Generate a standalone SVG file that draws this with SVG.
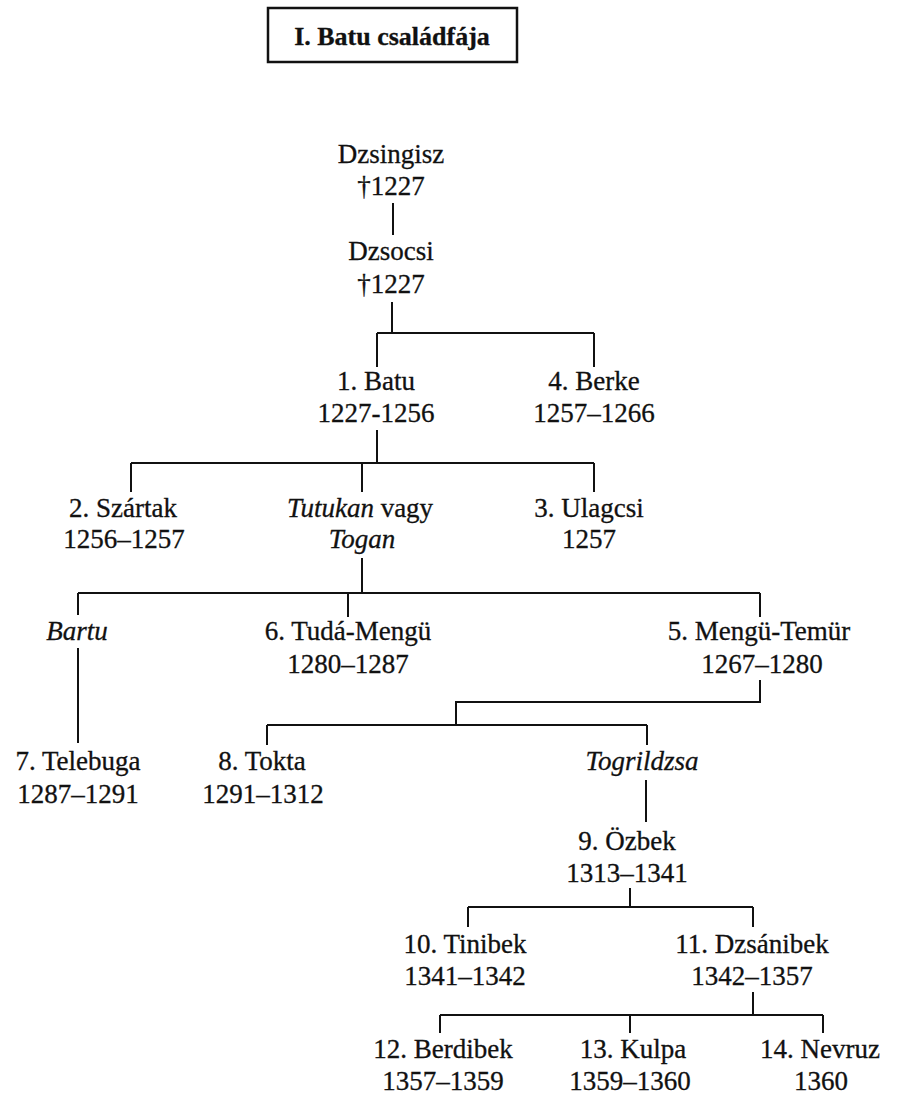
<svg xmlns="http://www.w3.org/2000/svg" width="914" height="1095" viewBox="0 0 914 1095">
<style>
text{font-family:"Liberation Serif","Times New Roman",serif;font-size:27px;fill:#111;stroke:#111;stroke-width:0.3;text-anchor:middle}
.i{font-style:italic}
.t{font-weight:bold;font-size:26px}
.c{fill:none;stroke:#111;stroke-width:2}
</style>
<rect width="914" height="1095" fill="#fff"/>
<g id="title">
<rect x="268" y="8" width="249" height="54" fill="none" stroke="#111" stroke-width="2.5"/>
<text class="t" x="392" y="45">I. Batu családfája</text>
</g>
<g id="connectors" class="c">
<path d="M393 203V235"/>
<path d="M392 302V333M377 333H594M377 333V367M594 333V367"/>
<path d="M377 430V463M131 463H594M131 463V492M362 463V492M594 463V492"/>
<path d="M362 558V593M78 593H760M78 593V615M348 593V617M760 593V617"/>
<path d="M78 648V743"/>
<path d="M760 680V702H456V725M267 725H647M267 725V745M647 725V745"/>
<path d="M646 780V822"/>
<path d="M630 888V907M468 907H753M468 907V927M753 907V927"/>
<path d="M753 992V1015M440 1015H823M440 1015V1033M630 1015V1033M823 1015V1033"/>
</g>
<g id="dzsingisz"><text x="391" y="163">Dzsingisz</text><text x="391" y="195">†1227</text></g>
<g id="dzsocsi"><text x="391" y="260">Dzsocsi</text><text x="391" y="293">†1227</text></g>
<g id="batu"><text x="376" y="390">1. Batu</text><text x="376" y="422">1227-1256</text></g>
<g id="berke"><text x="594" y="390">4. Berke</text><text x="594" y="422">1257–1266</text></g>
<g id="sartak"><text x="123" y="517">2. Szártak</text><text x="124" y="548">1256–1257</text></g>
<g id="tutukan"><text x="360" y="517"><tspan class="i">Tutukan</tspan> vagy</text><text class="i" x="362" y="548">Togan</text></g>
<g id="ulagcsi"><text x="589" y="517">3. Ulagcsi</text><text x="589" y="548">1257</text></g>
<g id="bartu"><text class="i" x="77" y="640">Bartu</text></g>
<g id="tuda-mengu"><text x="348" y="640">6. Tudá-Mengü</text><text x="348" y="673">1280–1287</text></g>
<g id="mengu-temur"><text x="759" y="640">5. Mengü-Temür</text><text x="762" y="673">1267–1280</text></g>
<g id="telebuga"><text x="78" y="770">7. Telebuga</text><text x="78" y="803">1287–1291</text></g>
<g id="tokta"><text x="262" y="770">8. Tokta</text><text x="263" y="803">1291–1312</text></g>
<g id="togrildzsa"><text class="i" x="642" y="770">Togrildzsa</text></g>
<g id="ozbek"><text x="627" y="850">9. Özbek</text><text x="627" y="882">1313–1341</text></g>
<g id="tinibek"><text x="465" y="953">10. Tinibek</text><text x="465" y="985">1341–1342</text></g>
<g id="dzsanibek"><text x="752" y="953">11. Dzsánibek</text><text x="752" y="985">1342–1357</text></g>
<g id="berdibek"><text x="443" y="1058">12. Berdibek</text><text x="443" y="1090">1357–1359</text></g>
<g id="kulpa"><text x="633" y="1058">13. Kulpa</text><text x="630" y="1090">1359–1360</text></g>
<g id="nevruz"><text x="820" y="1058">14. Nevruz</text><text x="821" y="1090">1360</text></g>
</svg>
